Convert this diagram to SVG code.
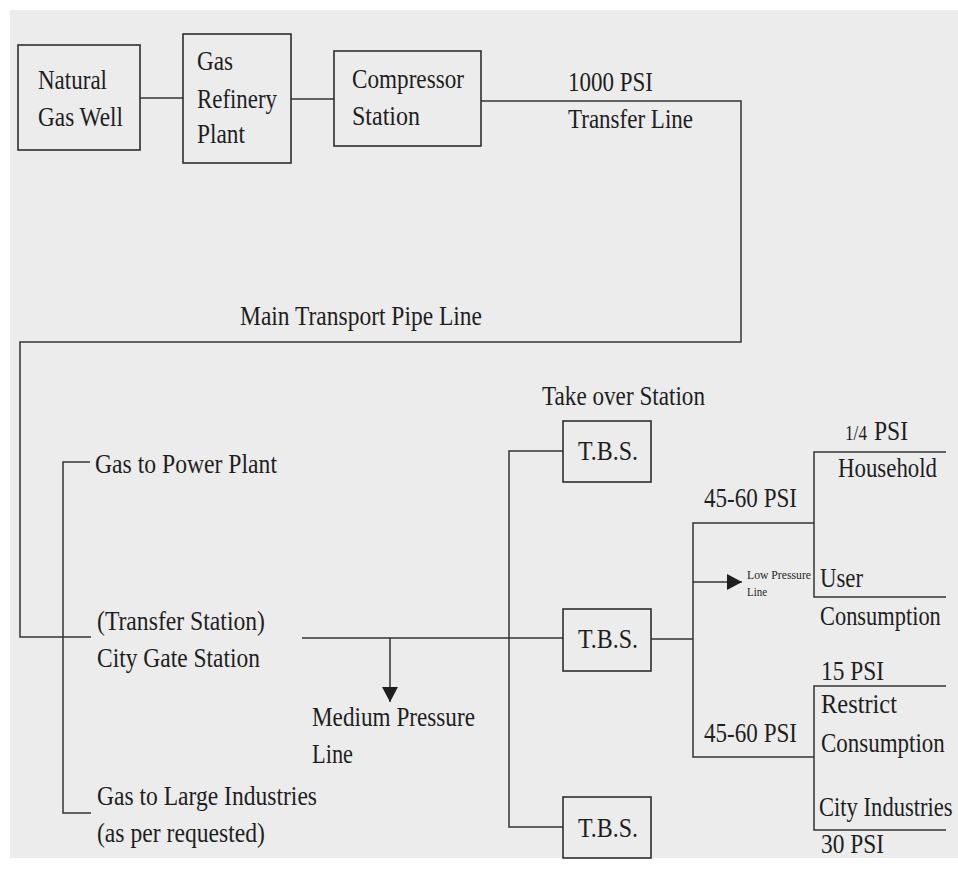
<svg xmlns="http://www.w3.org/2000/svg" width="958" height="870" viewBox="0 0 958 870">
<style>
.box{fill:none;stroke:#2e2e2e;stroke-width:1.6}
.ln{fill:none;stroke:#333;stroke-width:1.5}
text{font-family:"Liberation Serif","Times New Roman",serif;font-size:28px;fill:#1e1e1e}
.sm{font-size:12px}
</style>
<defs>
<marker id="arrL" viewBox="0 0 10 10" refX="10" refY="5" markerWidth="15" markerHeight="16" markerUnits="userSpaceOnUse" orient="auto" preserveAspectRatio="none">
<path d="M0,0 L10,5 L0,10 z" fill="#1e1e1e"/>
</marker>
</defs>
<rect x="0" y="0" width="958" height="870" fill="#ffffff"/>
<rect x="10" y="10" width="948" height="848" fill="#ececec"/>

<g id="connectors">
<line class="ln" x1="140" y1="98" x2="183" y2="98"/>
<line class="ln" x1="291" y1="99" x2="334" y2="99"/>
<polyline class="ln" points="481,101 741,101 741,342 20,342 20,637 91,637"/>
<polyline class="ln" points="90,462 63,462 63,813 91,813"/>
<line class="ln" x1="302" y1="638" x2="563" y2="638"/>
<line class="ln" x1="390" y1="638" x2="390" y2="702" marker-end="url(#arrL)"/>
<polyline class="ln" points="563,451 509,451 509,827 563,827"/>
<line class="ln" x1="651" y1="639" x2="693" y2="639"/>
<polyline class="ln" points="814,523 693,523 693,757 814,757"/>
<line class="ln" x1="693" y1="582" x2="742" y2="582" marker-end="url(#arrL)"/>
<polyline class="ln" points="946,452 814,452 814,597 946,597"/>
<polyline class="ln" points="946,686 814,686 814,830 946,830"/>
</g>

<g id="natural-gas-well">
<rect class="box" x="18" y="45" width="122" height="105"/>
<text x="38" y="89" textLength="69" lengthAdjust="spacingAndGlyphs">Natural</text>
<text x="38" y="126" textLength="85" lengthAdjust="spacingAndGlyphs">Gas Well</text>
</g>
<g id="gas-refinery-plant">
<rect class="box" x="183" y="34" width="108" height="129"/>
<text x="197" y="70" textLength="36" lengthAdjust="spacingAndGlyphs">Gas</text>
<text x="197" y="108" textLength="80" lengthAdjust="spacingAndGlyphs">Refinery</text>
<text x="197" y="143" textLength="48" lengthAdjust="spacingAndGlyphs">Plant</text>
</g>
<g id="compressor-station">
<rect class="box" x="334" y="51" width="147" height="95"/>
<text x="352" y="88" textLength="112" lengthAdjust="spacingAndGlyphs">Compressor</text>
<text x="352" y="125" textLength="68" lengthAdjust="spacingAndGlyphs">Station</text>
</g>
<g id="transfer-line">
<text x="568" y="91" textLength="85" lengthAdjust="spacingAndGlyphs">1000 PSI</text>
<text x="568" y="128" textLength="125" lengthAdjust="spacingAndGlyphs">Transfer Line</text>
</g>
<g id="main-transport">
<text x="240" y="325" textLength="242" lengthAdjust="spacingAndGlyphs">Main Transport Pipe Line</text>
</g>
<g id="gas-power-plant">
<text x="95" y="473" textLength="182" lengthAdjust="spacingAndGlyphs">Gas to Power Plant</text>
</g>
<g id="city-gate-station">
<text x="97" y="630" textLength="168" lengthAdjust="spacingAndGlyphs">(Transfer Station)</text>
<text x="97" y="667" textLength="163" lengthAdjust="spacingAndGlyphs">City Gate Station</text>
</g>
<g id="gas-large-industries">
<text x="97" y="805" textLength="220" lengthAdjust="spacingAndGlyphs">Gas to Large Industries</text>
<text x="97" y="842" textLength="168" lengthAdjust="spacingAndGlyphs">(as per requested)</text>
</g>
<g id="medium-pressure">
<text x="312" y="726" textLength="163" lengthAdjust="spacingAndGlyphs">Medium Pressure</text>
<text x="312" y="763" textLength="41" lengthAdjust="spacingAndGlyphs">Line</text>
</g>
<g id="take-over-label">
<text x="542" y="405" textLength="163" lengthAdjust="spacingAndGlyphs">Take over Station</text>
</g>
<g id="tbs-1">
<rect class="box" x="563" y="421" width="88" height="61"/>
<text x="578" y="460" textLength="60" lengthAdjust="spacingAndGlyphs">T.B.S.</text>
</g>
<g id="tbs-2">
<rect class="box" x="563" y="609" width="88" height="62"/>
<text x="578" y="648" textLength="60" lengthAdjust="spacingAndGlyphs">T.B.S.</text>
</g>
<g id="tbs-3">
<rect class="box" x="563" y="797" width="88" height="61"/>
<text x="578" y="837" textLength="60" lengthAdjust="spacingAndGlyphs">T.B.S.</text>
</g>
<g id="psi-45-60-top">
<text x="704" y="507" textLength="93" lengthAdjust="spacingAndGlyphs">45-60 PSI</text>
</g>
<g id="psi-45-60-bottom">
<text x="704" y="742" textLength="93" lengthAdjust="spacingAndGlyphs">45-60 PSI</text>
</g>
<g id="low-pressure">
<text class="sm" x="747" y="579" textLength="64" lengthAdjust="spacingAndGlyphs">Low Pressure</text>
<text class="sm" x="747" y="596" textLength="20" lengthAdjust="spacingAndGlyphs">Line</text>
</g>
<g id="household">
<text x="845" y="440"><tspan font-size="20" textLength="22" lengthAdjust="spacingAndGlyphs">1/4</tspan> <tspan textLength="34" lengthAdjust="spacingAndGlyphs">PSI</tspan></text>
<text x="838" y="477" textLength="99" lengthAdjust="spacingAndGlyphs">Household</text>
</g>
<g id="user-consumption">
<text x="820" y="587" textLength="43" lengthAdjust="spacingAndGlyphs">User</text>
<text transform="translate(820,625) scale(0.8,1)" textLength="151" lengthAdjust="spacingAndGlyphs">Consumption</text>
</g>
<g id="restrict-consumption">
<text x="821" y="680" textLength="63" lengthAdjust="spacingAndGlyphs">15 PSI</text>
<text x="821" y="713" textLength="76" lengthAdjust="spacingAndGlyphs">Restrict</text>
<text transform="translate(821,752) scale(0.82,1)" textLength="151" lengthAdjust="spacingAndGlyphs">Consumption</text>
</g>
<g id="city-industries">
<text transform="translate(819,816) scale(0.81,1)" textLength="165" lengthAdjust="spacingAndGlyphs">City Industries</text>
<text x="821" y="853" textLength="63" lengthAdjust="spacingAndGlyphs">30 PSI</text>
</g>
</svg>
